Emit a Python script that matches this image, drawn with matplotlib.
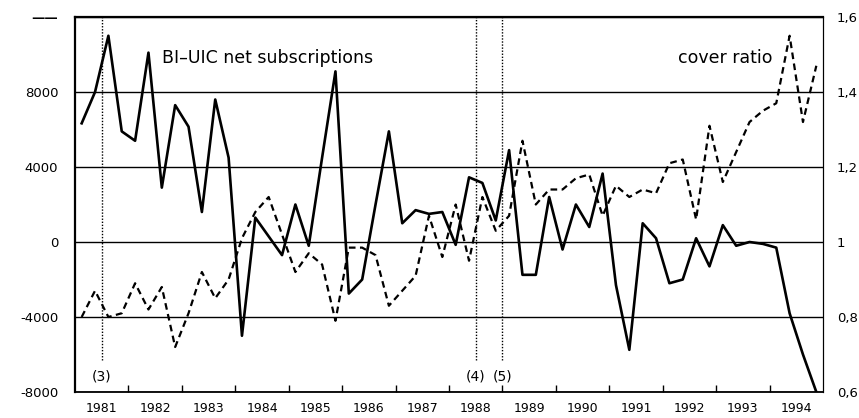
import numpy as np
import matplotlib.pyplot as plt

# quarterly data, 1981 Q1 .. 1994 Q4
net_subs = [6330, 8000, 11000, 5900, 5400, 10100, 2900, 7300,
            6150, 1600, 7600, 4500, -5000, 1300, 300, -700,
            2000, -200, 4500, 9100, -2750, -2000, 2000, 5900,
            1000, 1700, 1500, 1600, -150, 3450, 3150, 1150,
            4900, -1750, -1750, 2400, -400, 2000, 800, 3650,
            -2300, -5750, 1000, 200, -2200, -2000, 200, -1300,
            900, -200, 0, -100, -300, -3800, -6000, -8000]
cover_ratio = [0.80, 0.87, 0.80, 0.81, 0.89, 0.82, 0.88, 0.72,
               0.81, 0.92, 0.85, 0.90, 1.01, 1.08, 1.12, 1.02,
               0.92, 0.97, 0.94, 0.79, 0.985, 0.985, 0.965, 0.83,
               0.87, 0.91, 1.07, 0.96, 1.10, 0.95, 1.12, 1.03,
               1.07, 1.27, 1.10, 1.14, 1.14, 1.17, 1.18, 1.07,
               1.15, 1.12, 1.14, 1.13, 1.21, 1.22, 1.06, 1.31,
               1.16, 1.24, 1.32, 1.35, 1.37, 1.55, 1.32, 1.47]
years = list(range(1981, 1995))
left_ticks = [-8000, -4000, 0, 4000, 8000, 12000]
left_labels = ['-8000', '-4000', '0', '4000', '8000', '——']
right_ticks = [0.6, 0.8, 1.0, 1.2, 1.4, 1.6]
right_labels = ['0,6', '0,8', '1', '1,2', '1,4', '1,6']
events = [1981.5, 1988.5, 1989.0]
event_labels = ['(3)', '(4)', '(5)']

plt.rcParams['font.family'] = ['DejaVu Sans']

x = years[0] + (np.arange(len(net_subs)) + 0.5) / 4

fig = plt.figure(figsize=(8.59, 4.18), dpi=100)
ax = fig.add_axes([0.0873, 0.0622, 0.8708, 0.8971])
ax.set_xlim(years[0], years[-1] + 1)
ax.set_ylim(-8000, 12000)

# y axis + horizontal grid
ax.set_yticks(left_ticks, left_labels, fontsize=9.5)
ax.tick_params(axis='y', length=0, pad=12)
ax.get_yticklabels()[-1].set_fontweight('bold')
ax.grid(axis='y', color='black', lw=1.0)

# x axis: ticks at year breaks, labels mid-year
ax.set_xticks(years[1:], [''] * (len(years) - 1))
ax.set_xticks([y + 0.5 for y in years], [str(y) for y in years], minor=True, fontsize=9)
ax.tick_params(axis='x', which='major', direction='in', length=5, width=1)
ax.tick_params(axis='x', which='minor', length=0, pad=7)

for side, lw in [('top', 1.6), ('left', 1.6), ('bottom', 1.3), ('right', 0.8)]:
    ax.spines[side].set_linewidth(lw)

ax.plot(x, net_subs, color='black', lw=1.9, zorder=3)

# event lines
ax.vlines(events, -6300, 12000, colors='black', lw=1.0, linestyles=(0, (1, 1.2)))
for ev, lab in zip(events, event_labels):
    ax.text(ev, -7150, lab, ha='center', va='center', fontsize=10)

ax.text(1982.63, 9550, 'BI–UIC net subscriptions', fontsize=12.5, va='baseline')
ax.text(1992.29, 9550, 'cover ratio', fontsize=12.5, va='baseline')

ax2 = ax.twinx()
ax2.set_ylim(0.6, 1.6)
ax2.set_yticks(right_ticks, right_labels, fontsize=9.5)
ax2.tick_params(axis='y', length=0, pad=10)
for side in ['top', 'left', 'bottom']:
    ax2.spines[side].set_visible(False)
ax2.spines['right'].set_linewidth(0.8)
ax2.plot(x, cover_ratio, color='black', lw=1.6, dashes=(3, 2))

fig.savefig('out.png', dpi=100)
